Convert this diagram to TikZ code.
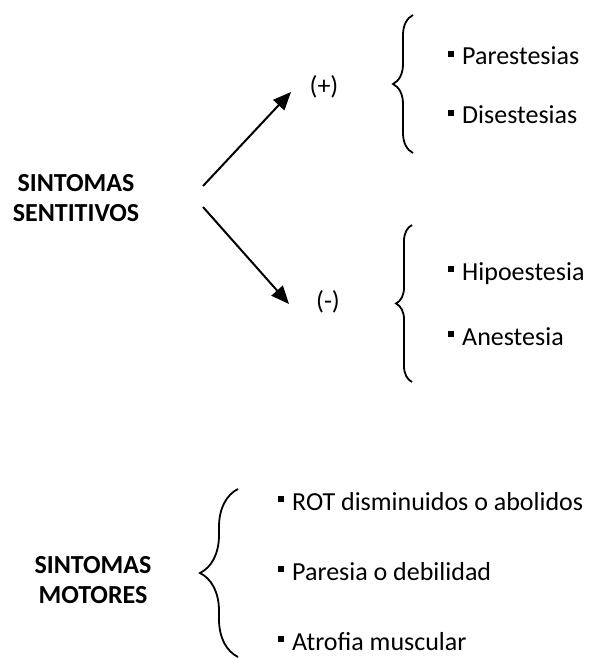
\documentclass[tikz,border=0pt]{standalone}
\usepackage{fontspec}
\setmainfont{Carlito}
\usetikzlibrary{arrows.meta,decorations.pathreplacing}

\newcommand{\vineta}{\raisebox{8pt}{\rule{6pt}{6pt}}\hspace{8pt}}

\begin{document}
\begin{tikzpicture}[x=1pt, y=-1pt,
    sintoma/.style={align=center, inner sep=0pt, font=\fontsize{26}{30}\selectfont\bfseries},
    signo/.style={anchor=base, inner sep=0pt, font=\fontsize{26}{30}\selectfont},
    entrada/.style={anchor=base west, inner sep=0pt, font=\fontsize{26}{30}\selectfont},
    flecha/.style={line width=2pt, -{Triangle[length=18pt, width=15pt]}},
    llave/.style={decorate, line width=1.8pt, decoration={brace, amplitude=#1}}]
    \clip (0,0) rectangle (592,658);

    % sintomas sentitivos
    \node (sens) [sintoma] at (76,198) {SINTOMAS\\SENTITIVOS};
    \node (pos) [signo] at (324,95) {(+)};
    \node (neg) [signo] at (328,309) {(-)};
    \coordinate (sensUp) at (203,186);
    \coordinate (sensDown) at (203,207);
    \coordinate (posTip) at (291,92);
    \coordinate (negTip) at (289,304);
    \draw [flecha] (sensUp) -- (posTip);
    \draw [flecha] (sensDown) -- (negTip);

    \draw [llave=20pt] (413,153) -- (413,15);
    \node (pares) [entrada] at (448,65) {\vineta Parestesias};
    \node (dises) [entrada] at (448,124) {\vineta Disestesias};

    \draw [llave=16pt] (412,382) -- (412,225);
    \node (hipo) [entrada] at (448,280) {\vineta Hipoestesia};
    \node (anes) [entrada] at (448,345) {\vineta Anestesia};

    % sintomas motores
    \node (mot) [sintoma] at (93,580) {SINTOMAS\\MOTORES};
    \draw [llave=38pt] (238,657) -- (238,489);
    \node (rot) [entrada] at (278,510) {\vineta ROT disminuidos o abolidos};
    \node (pare) [entrada] at (278,580) {\vineta Paresia o debilidad};
    \node (atro) [entrada] at (278,650) {\vineta Atrofia muscular};
\end{tikzpicture}
\end{document}
